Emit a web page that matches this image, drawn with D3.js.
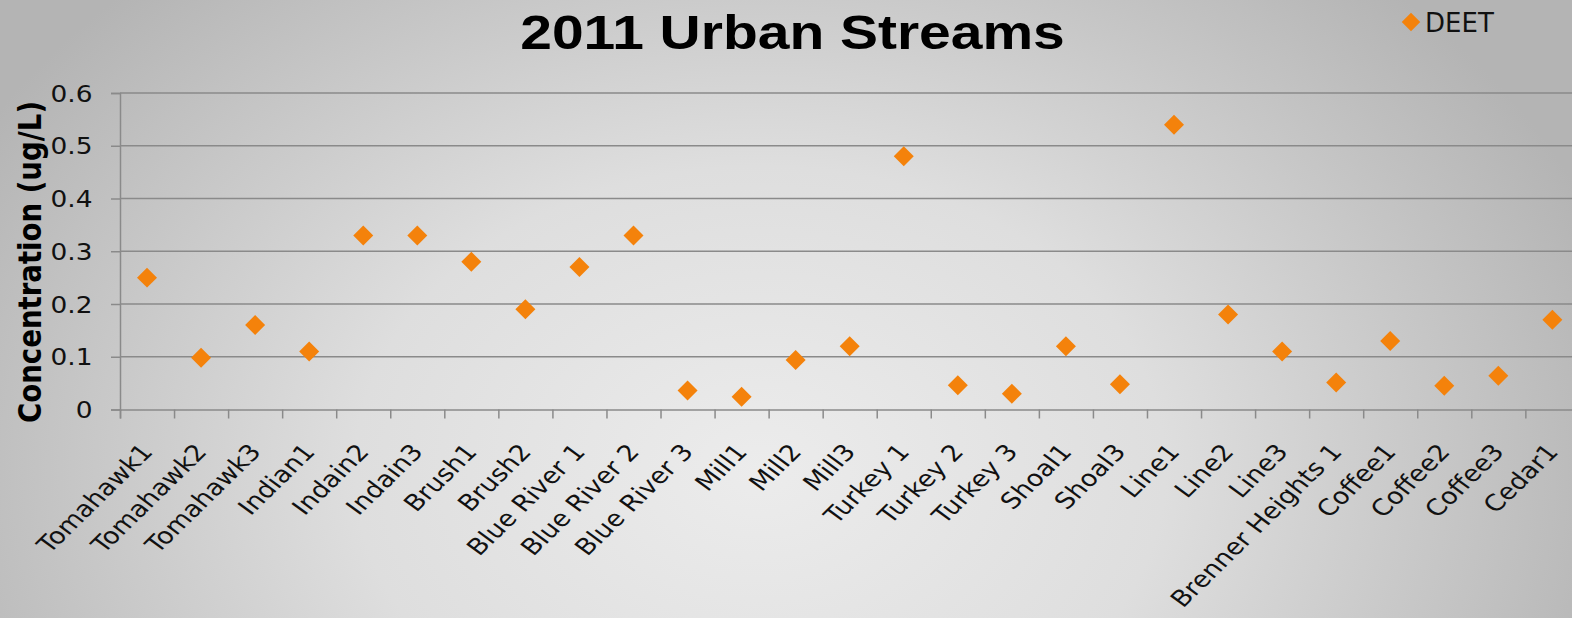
<!DOCTYPE html>
<html>
<head>
<meta charset="utf-8">
<script src="https://cdnjs.cloudflare.com/ajax/libs/d3/7.9.0/d3.min.js"></script>
<style>
  html, body { margin: 0; padding: 0; }
  body { width: 1572px; height: 618px; overflow: hidden; }
  svg { display: block; }
</style>
</head>
<body>
<svg id="chart" width="1572" height="618"></svg>
<script>
const sites = ['Tomahawk1', 'Tomahawk2', 'Tomahawk3', 'Indian1', 'Indain2', 'Indain3', 'Brush1', 'Brush2',
  'Blue River 1', 'Blue River 2', 'Blue River 3', 'Mill1', 'Mill2', 'Mill3', 'Turkey 1', 'Turkey 2', 'Turkey 3',
  'Shoal1', 'Shoal3', 'Line1', 'Line2', 'Line3', 'Brenner Heights 1', 'Coffee1', 'Coffee2', 'Coffee3', 'Cedar1'];
const deet = [0.25, 0.098, 0.16, 0.11, 0.33, 0.33, 0.28, 0.19,
  0.27, 0.33, 0.036, 0.024, 0.094, 0.12, 0.48, 0.046, 0.03,
  0.12, 0.048, 0.54, 0.18, 0.11, 0.051, 0.13, 0.045, 0.064, 0.17];
const yTicks = [0, 0.1, 0.2, 0.3, 0.4, 0.5, 0.6];

const W = 1572, H = 618;
const ORANGE = '#F4820B';
const GRID = '#8a8a8a';
const SX = 1.18; // 원본 이미지가 가로로 살짝 늘어나 있음
const FONT = '"DejaVu Sans", Verdana, sans-serif';
const plotL = 120, plotR = 1579.4, plotT = 93, plotB = 409.5;

const svg = d3.select('#chart');

// 배경 그라데이션
const defs = svg.append('defs');
const bg = defs.append('radialGradient').attr('id', 'bg')
  .attr('gradientUnits', 'userSpaceOnUse')
  .attr('cx', 760).attr('cy', 470).attr('r', 900)
  .attr('gradientTransform', 'translate(760,470) scale(1,0.75) translate(-760,-470)');
bg.append('stop').attr('offset', 0).attr('stop-color', '#ececec');
bg.append('stop').attr('offset', 0.45).attr('stop-color', '#dedede');
bg.append('stop').attr('offset', 1).attr('stop-color', '#b4b4b4');
svg.append('rect').attr('width', W).attr('height', H).attr('fill', 'url(#bg)');

const x = d3.scaleBand().domain(sites).range([plotL, plotR]).padding(0);
const xEdge = d3.scaleLinear().domain([0, sites.length]).range([plotL, plotR]);
const y = d3.scaleLinear().domain([0, 0.6]).range([plotB, plotT]);

// gridlines
svg.append('g').selectAll('line').data(yTicks.slice(1)).join('line')
  .attr('x1', plotL).attr('x2', plotR)
  .attr('y1', d => y(d)).attr('y2', d => y(d))
  .attr('stroke', GRID).attr('stroke-width', 1.5);

// y axis
const yAxis = svg.append('g').attr('transform', `translate(${plotL},0)`)
  .call(d3.axisLeft(y).tickValues(yTicks).tickSize(9).tickFormat(d => d === 0 ? '0' : d.toFixed(1)));
yAxis.select('.domain').attr('stroke', GRID).attr('stroke-width', 1.5);
yAxis.selectAll('.tick line').attr('stroke', GRID).attr('stroke-width', 1.5);
yAxis.selectAll('.tick text')
  .attr('x', null).attr('dy', null)
  .attr('transform', `translate(-27.5,8) scale(${SX},1)`)
  .attr('fill', '#111')
  .style('font-family', FONT).style('font-size', '22.4px');

// x axis (ticks between categories)
const xAxis = svg.append('g').attr('transform', `translate(0,${plotB})`)
  .call(d3.axisBottom(xEdge).tickValues(d3.range(0, sites.length + 1)).tickSize(9).tickFormat(''));
xAxis.select('.domain').attr('stroke', GRID).attr('stroke-width', 1.5);
xAxis.selectAll('.tick line').attr('stroke', GRID).attr('stroke-width', 1.5);

// category labels
svg.append('g').selectAll('text').data(sites).join('text')
  .attr('transform', d => `translate(${x(d) + x.bandwidth() / 2 + 7},${plotB + 43}) scale(${SX},1) rotate(-49)`)
  .attr('text-anchor', 'end')
  .attr('fill', '#111')
  .style('font-family', FONT).style('font-size', '22.8px')
  .text(d => d);

// points
const diamond = d3.symbol(d3.symbolSquare, 200);
svg.append('g').selectAll('path').data(deet).join('path')
  .attr('d', diamond)
  .attr('transform', (d, i) => `translate(${x(sites[i]) + x.bandwidth() / 2},${y(d)}) rotate(45)`)
  .attr('fill', ORANGE);

// title
svg.append('text').attr('transform', `translate(792.5,49.3) scale(${1.187},1)`)
  .attr('text-anchor', 'middle').attr('fill', '#000')
  .style('font-family', '"Liberation Sans", Arial, sans-serif')
  .style('font-weight', 'bold').style('font-size', '48px')
  .text('2011 Urban Streams');

// y title
svg.append('text').attr('transform', `translate(41,262) scale(${SX},1) rotate(-90)`)
  .attr('text-anchor', 'middle').attr('fill', '#000')
  .style('font-family', FONT)
  .style('font-weight', 'bold').style('font-size', '27.6px')
  .text('Concentration (ug/L)');

// legend
const lg = svg.append('g');
lg.append('path').attr('d', d3.symbol(d3.symbolSquare, 170))
  .attr('transform', 'translate(1411,22) rotate(45)').attr('fill', ORANGE);
lg.append('text').attr('x', 1425).attr('y', 32.3).attr('fill', '#111')
  .style('font-family', FONT).style('font-size', '26px')
  .text('DEET');
</script>
</body>
</html>
